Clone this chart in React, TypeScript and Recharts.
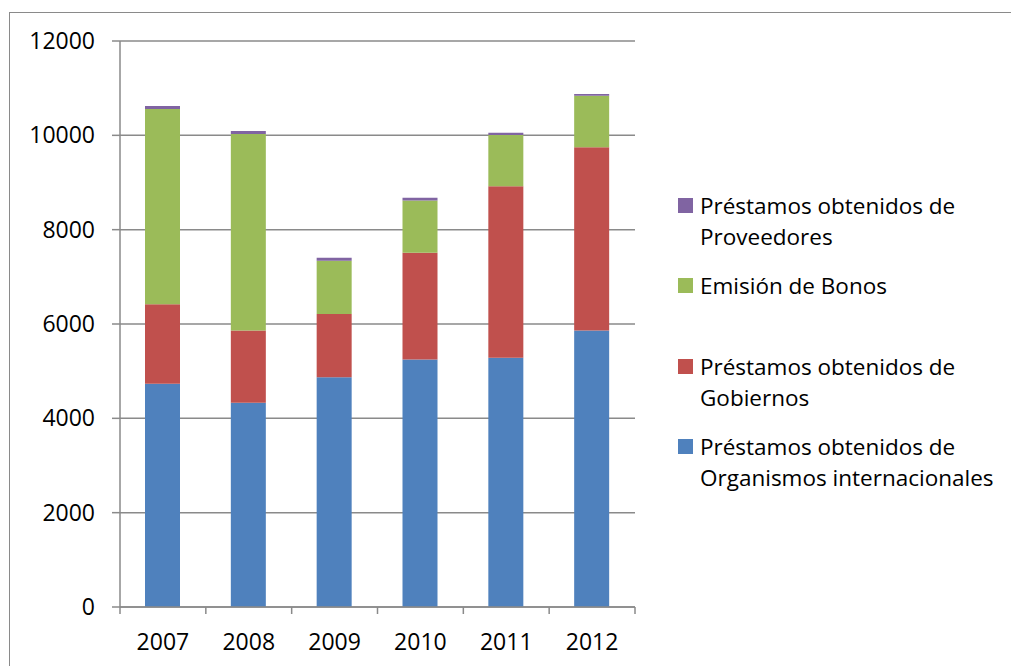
import React from "react";
import { BarChart, Bar, XAxis, YAxis, CartesianGrid } from "recharts";

const years = ["2007", "2008", "2009", "2010", "2011", "2012"];
const organismos = [4734, 4328, 4869, 5248, 5284, 5861];
const gobiernos = [1686, 1533, 1344, 2263, 3634, 3887];
const bonos = [4139, 4166, 1127, 1109, 1091, 1091];
const proveedores = [63, 63, 63, 55, 45, 36];
const yTicks = [0, 2000, 4000, 6000, 8000, 10000, 12000];

const seriesInfo = [
  { key: "prov", lines: ["Préstamos obtenidos de", "Proveedores"], color: "#8064A2" },
  { key: "bonos", lines: ["Emisión de Bonos"], color: "#9BBB59" },
  { key: "gob", lines: ["Préstamos obtenidos de", "Gobiernos"], color: "#C0504D" },
  { key: "org", lines: ["Préstamos obtenidos de", "Organismos internacionales"], color: "#4F81BD" },
];

const data = years.map((y, i) => ({
  year: y,
  org: organismos[i],
  gob: gobiernos[i],
  bonos: bonos[i],
  prov: proveedores[i],
}));

const FONT = "'Open Sans', sans-serif";
const GRID = "#8a8a8a";
const TICK_FS = 23;
const LEG_FS = 22.5;

const XTick = (props: any) => {
  const { x, y, payload, index } = props;
  const half = payload && payload.offset ? payload.offset : 43;
  const last = index === years.length - 1;
  return (
    <g>
      <line x1={x - half} x2={x - half} y1={y} y2={y + 7} stroke={GRID} strokeWidth={1.5} />
      {last && <line x1={x + half} x2={x + half} y1={y} y2={y + 7} stroke={GRID} strokeWidth={1.5} />}
      <text x={x} y={y + 34} textAnchor="middle" dominantBaseline="central" fontSize={TICK_FS} fontFamily={FONT} fill="#000">
        {payload.value}
      </text>
    </g>
  );
};

const itemTops = [190, 270, 351, 431];

const LegendBox = () => (
  <div style={{ position: "absolute", left: 678, top: 0, width: 333, fontFamily: FONT, fontSize: LEG_FS, color: "#000" }}>
    {seriesInfo.map((s, i) => (
      <div key={s.key} style={{ position: "absolute", left: 0, top: itemTops[i], display: "flex", alignItems: "flex-start" }}>
        <div style={{ width: 15, height: 15, background: s.color, marginTop: 8, marginRight: 7, flex: "none" }} />
        <div style={{ lineHeight: "31px", whiteSpace: "nowrap" }}>
          {s.lines.map((l, j) => (
            <div key={j}>{l}</div>
          ))}
        </div>
      </div>
    ))}
  </div>
);

export default function App() {
  return (
    <div style={{ position: "fixed", left: 0, top: 0, width: 1011, height: 666, background: "#fff", overflow: "hidden" }}>
      <div style={{ position: "absolute", left: 9, top: 12, width: 1020, height: 680, border: "1.5px solid #8a8a8a" }} />
      <div style={{ position: "absolute", left: 0, top: 0 }}>
        <BarChart
          width={1011}
          height={666}
          data={data}
          margin={{ top: 41, right: 376, bottom: 19, left: 0 }}
          barSize={35}
        >
          <CartesianGrid horizontal={true} vertical={false} stroke={GRID} strokeWidth={1.5} />
          <XAxis
            dataKey="year"
            height={40}
            tickSize={0}
            tickMargin={0}
            tickLine={false}
            axisLine={{ stroke: GRID, strokeWidth: 1.5 }}
            tick={<XTick />}
            interval={0}
          />
          <YAxis
            width={120}
            domain={[0, 12000]}
            ticks={yTicks}
            interval={0}
            tickSize={8}
            tickMargin={17}
            tickLine={{ stroke: GRID, strokeWidth: 1.5 }}
            axisLine={{ stroke: GRID, strokeWidth: 1.5 }}
            tick={{ fontSize: TICK_FS, fontFamily: FONT, fill: "#000" }}
          />
          <Bar dataKey="org" stackId="a" fill="#4F81BD" isAnimationActive={false} />
          <Bar dataKey="gob" stackId="a" fill="#C0504D" isAnimationActive={false} />
          <Bar dataKey="bonos" stackId="a" fill="#9BBB59" isAnimationActive={false} />
          <Bar dataKey="prov" stackId="a" fill="#8064A2" isAnimationActive={false} />
        </BarChart>
      </div>
      <LegendBox />
    </div>
  );
}
